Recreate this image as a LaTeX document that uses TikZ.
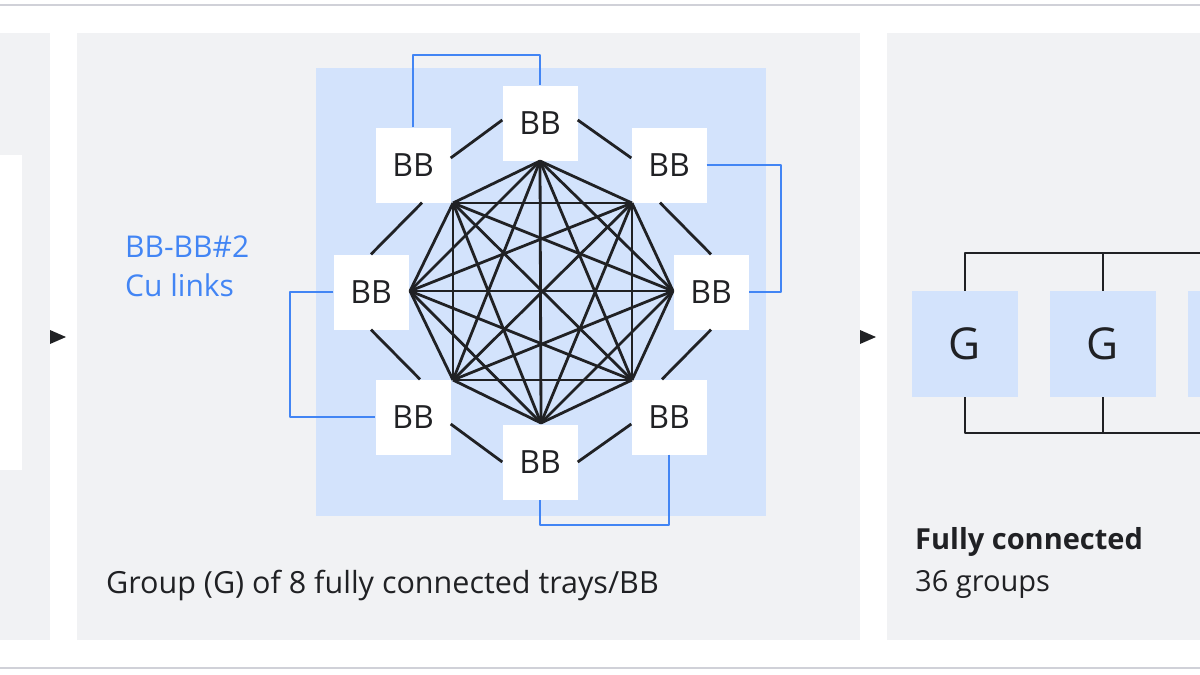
\documentclass[tikz,border=0pt]{standalone}
\usepackage{fontspec}
\setmainfont{Open Sans}
\usetikzlibrary{positioning}
\definecolor{panel}{HTML}{F1F2F4}
\definecolor{lightblue}{HTML}{D3E3FC}
\definecolor{linkblue}{HTML}{4285F4}
\definecolor{rule}{HTML}{D0D1D8}
\definecolor{ink}{HTML}{202124}
\begin{document}
\begin{tikzpicture}[x=1pt, y=-1pt, line join=round,
  bb/.style = {fill=white, minimum width=75pt, minimum height=75pt, inner sep=0pt, font=\fontsize{32}{34}\selectfont, text=ink},
  grp/.style = {fill=lightblue, minimum width=106pt, minimum height=106pt, inner sep=0pt, font=\fontsize{44}{46}\selectfont, text=ink},
  mesh/.style = {draw=ink, line width=2.8pt},
  cu/.style = {draw=linkblue, line width=2.2pt},
  tri/.style = {fill=ink, draw=none}]
  \useasboundingbox (0,0) rectangle (1200,675);
  % frame and panels
  \draw[rule, line width=2pt] (0,5) -- (1200,5);
  \draw[rule, line width=2pt] (0,668) -- (1200,668);
  \fill[panel] (0,33) rectangle (50,640);
  \fill[white] (0,155) rectangle (22,470);
  \fill[panel] (77,33) rectangle (860,640);
  \fill[panel] (887,33) rectangle (1200,640);
  \fill[tri] (50,330) -- (66,337) -- (50,344) -- cycle;
  \fill[tri] (860,330) -- (876,337) -- (860,344) -- cycle;
  % group of 8 trays
  \fill[lightblue] (316,68) rectangle (766,516);
  \node[bb] (t) at (540,123) {BB};
  \node[bb] (tl) at (413,165) {BB};
  \node[bb] (tr) at (669,165) {BB};
  \node[bb] (l) at (371,292) {BB};
  \node[bb] (r) at (711,292) {BB};
  \node[bb] (bl) at (413,417) {BB};
  \node[bb] (br) at (669,417) {BB};
  \node[bb] (b) at (540,462) {BB};
  \coordinate (p1) at (540,161);
  \coordinate (p2) at (632,203);
  \coordinate (p3) at (673,291);
  \coordinate (p4) at (632,380);
  \coordinate (p5) at (541,423);
  \coordinate (p6) at (453,380);
  \coordinate (p7) at (410,291);
  \coordinate (p8) at (453,203);
  \foreach \i in {1,...,7}{
    \pgfmathtruncatemacro\k{\i+1}
    \foreach \j in {\k,...,8}
      \draw[mesh] (p\i) -- (p\j);
  }
  \draw[mesh] ([yshift=7pt]tl.east) -- ([yshift=3pt]t.west);
  \draw[mesh] ([yshift=3pt]t.east) -- ([yshift=7pt]tr.west);
  \draw[mesh] ([xshift=9pt]tl.south) -- (l.north);
  \draw[mesh] ([xshift=-9pt]tr.south) -- (r.north);
  \draw[mesh] (l.south) -- ([xshift=7pt]bl.north);
  \draw[mesh] (r.south) -- ([xshift=-7pt]br.north);
  \draw[mesh] ([yshift=-7pt]bl.east) -- (b.west);
  \draw[mesh] (b.east) -- ([yshift=-7pt]br.west);
  \coordinate (ct) at (540,55);
  \coordinate (cr) at (781,292);
  \coordinate (cl) at (290,417);
  \coordinate (cb) at (540,525);
  \draw[cu] (tl.north) |- (ct) -- (t.north);
  \draw[cu] (tr.east) -| (cr) -- (r.east);
  \draw[cu] (l.west) -| (cl) -- (bl.west);
  \draw[cu] (br.south) |- (cb) -- (b.south);
  \node[anchor=base west, text=linkblue, font=\fontsize{30}{34}\selectfont, inner sep=0pt] (cu1) at (125,257) {BB-BB\#2};
  \node[anchor=base west, text=linkblue, font=\fontsize{30}{34}\selectfont, inner sep=0pt] (cu2) at (125,296) {Cu links};
  \node[anchor=base west, text=ink, font=\fontsize{30.5}{34}\selectfont, inner sep=0pt] (cap) at (106,593) {Group (G) of 8 fully connected trays/BB};
  % fully connected groups
  \node[grp] (g1) at (965,344) {G};
  \node[grp] (g2) at (1103,344) {G};
  \node[grp] (g3) at (1241,344) {G};
  \coordinate (top) at (1200,253);
  \coordinate (bot) at (1200,433);
  \draw[mesh] (g1.north) |- (top);
  \draw[mesh] (g2.north) -- (g2.north |- top);
  \draw[mesh] (g1.south) |- (bot);
  \draw[mesh] (g2.south) -- (g2.south |- bot);
  \node[anchor=base west, text=ink, font=\fontsize{29}{34}\selectfont\bfseries, inner sep=0pt] (fc) at (915,549) {Fully connected};
  \node[anchor=base west, text=ink, font=\fontsize{29}{34}\selectfont, inner sep=0pt] (ng) at (915,591) {36 groups};
\end{tikzpicture}
\end{document}
